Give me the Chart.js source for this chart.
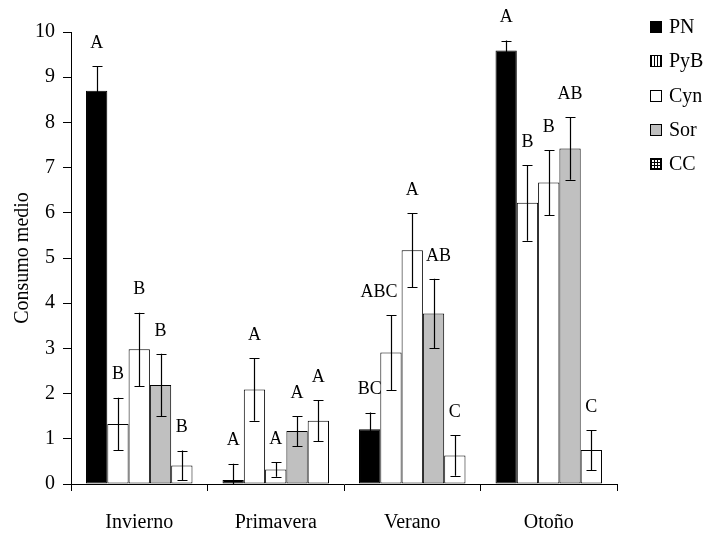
<!DOCTYPE html>
<html>
<head>
<meta charset="utf-8">
<script src="https://cdn.jsdelivr.net/npm/chart.js@4/dist/chart.umd.min.js"></script>
<style>
html,body{margin:0;padding:0;background:#fff;}
#wrap{width:707px;height:535px;position:relative;}
</style>
</head>
<body>
<div id="wrap"><canvas id="c" width="707" height="535"></canvas></div>
<script>
const categories = ['Invierno', 'Primavera', 'Verano', 'Otoño'];
const seriesNames = ['PN', 'PyB', 'Cyn', 'Sor', 'CC'];
const PN  = [8.70, 0.09, 1.21, 9.59];
const PyB = [1.33, 2.09, 2.91, 6.22];
const Cyn = [2.98, 0.32, 5.17, 6.67];
const Sor = [2.19, 1.17, 3.77, 7.42];
const CC  = [0.41, 1.40, 0.63, 0.75];
const errPN  = [0.54, 0.36, 0.37, 0.22];
const errPyB = [0.58, 0.69, 0.83, 0.84];
const errCyn = [0.81, 0.16, 0.82, 0.72];
const errSor = [0.69, 0.33, 0.77, 0.69];
const errCC  = [0.33, 0.45, 0.45, 0.44];
const letPN  = ['A', 'A', 'BC', 'A'];
const letPyB = ['B', 'A', 'ABC', 'B'];
const letCyn = ['B', 'A', 'A', 'B'];
const letSor = ['B', 'A', 'AB', 'AB'];
const letCC  = ['B', 'A', 'C', 'C'];
const yTicks = [0,1,2,3,4,5,6,7,8,9,10];

const FONT = '"Liberation Serif", serif';

function makePattern(kind){
  const c = document.createElement('canvas');
  c.width = 3; c.height = 3;
  const g = c.getContext('2d');
  g.fillStyle = '#fff'; g.fillRect(0,0,3,3);
  g.fillStyle = '#000';
  if (kind === 'v') { g.fillRect(0,0,1,3); }
  else { g.fillRect(0,0,1,3); g.fillRect(0,0,3,1); }
  return document.getElementById('c').getContext('2d').createPattern(c,'repeat');
}
const legendFills = ['#000000', makePattern('v'), '#ffffff', '#c0c0c0', makePattern('g')];

const barFills = ['#000000', '#ffffff', '#ffffff', '#c0c0c0', '#ffffff'];
const values = [PN, PyB, Cyn, Sor, CC];
const errs = [errPN, errPyB, errCyn, errSor, errCC];
const lets = [letPN, letPyB, letCyn, letSor, letCC];

const datasets = seriesNames.map((n,i)=>({
  label: n,
  data: values[i],
  backgroundColor: barFills[i],
  borderColor: '#000',
  borderWidth: 1,
  borderSkipped: false,
  categoryPercentage: 0.78,
  barPercentage: 1.0,
  errors: errs[i],
  letters: lets[i]
}));

const labelShift = {'2-1': -12, '2-3': 5};

const extras = {
  id: 'extras',
  afterDatasetsDraw(chart){
    const ctx = chart.ctx;
    const y = chart.scales.y;
    ctx.save();
    chart.data.datasets.forEach((ds, di)=>{
      const meta = chart.getDatasetMeta(di);
      meta.data.forEach((bar, i)=>{
        const v = ds.data[i], e = ds.errors[i];
        const x = Math.round(bar.x) + 0.5;
        const yt = y.getPixelForValue(v + e);
        const yb = y.getPixelForValue(Math.max(0, v - e));
        ctx.strokeStyle = '#000';
        ctx.lineWidth = 1.2;
        ctx.beginPath();
        ctx.moveTo(x, yt); ctx.lineTo(x, yb);
        ctx.moveTo(x-5, Math.round(yt)+0.5); ctx.lineTo(x+5, Math.round(yt)+0.5);
        ctx.moveTo(x-5, Math.round(yb)+0.5); ctx.lineTo(x+5, Math.round(yb)+0.5);
        ctx.stroke();
        ctx.fillStyle = '#000';
        ctx.font = '18px ' + FONT;
        ctx.textAlign = 'center';
        ctx.textBaseline = 'middle';
        const dx = labelShift[i + '-' + di] || 0;
        ctx.fillText(ds.letters[i], bar.x + dx, yt - 23);
      });
    });
    const lx = 650, rows = [27, 61, 96, 130, 164];
    chart.data.datasets.forEach((ds, di)=>{
      const cy = rows[di];
      ctx.fillStyle = legendFills[di];
      ctx.fillRect(lx, cy-6, 12, 12);
      ctx.strokeStyle = '#000';
      ctx.lineWidth = 1;
      ctx.strokeRect(lx+0.5, cy-5.5, 11, 11);
      ctx.fillStyle = '#000';
      ctx.font = '20px ' + FONT;
      ctx.textAlign = 'left';
      ctx.textBaseline = 'middle';
      ctx.fillText(ds.label, lx + 19, cy + 1);
    });
    ctx.restore();
  }
};

new Chart(document.getElementById('c'), {
  type: 'bar',
  data: { labels: categories, datasets },
  options: {
    responsive: false,
    animation: false,
    layout: { padding: { top: 32, right: 90, bottom: 0, left: 0 } },
    plugins: { legend: { display: false }, tooltip: { enabled: false } },
    scales: {
      x: {
        grid: { offset: true, drawOnChartArea: false, drawTicks: true, tickLength: 7, color: '#000', lineWidth: 1 },
        border: { display: true, color: '#000', width: 1 },
        ticks: { color: '#000', font: { family: FONT, size: 20 }, padding: 20, maxRotation: 0 },
        afterFit(s){ s.height = 51; }
      },
      y: {
        min: 0, max: 10,
        afterBuildTicks(s){ s.ticks = yTicks.map(v=>({value:v})); },
        grid: { drawOnChartArea: false, drawTicks: true, tickLength: 8, color: '#000', lineWidth: 1 },
        border: { display: true, color: '#000', width: 1 },
        ticks: { color: '#000', font: { family: FONT, size: 20 }, padding: 8 },
        title: { display: true, text: 'Consumo medio', color: '#000', font: { family: FONT, size: 20 }, padding: { top: 11, bottom: 0 } },
        afterFit(s){ s.width = 71; }
      }
    }
  },
  plugins: [extras]
});
</script>
</body>
</html>
